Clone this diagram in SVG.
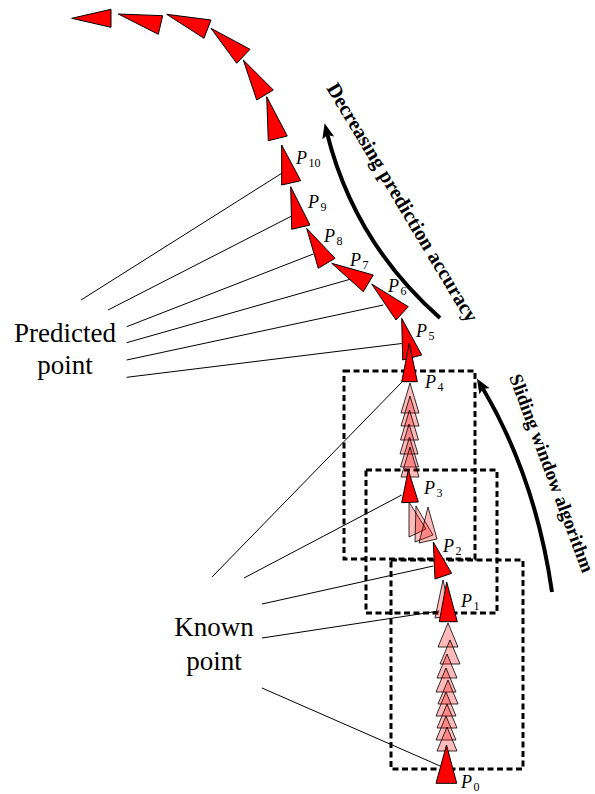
<svg xmlns="http://www.w3.org/2000/svg" width="595" height="794" viewBox="0 0 595 794">
<defs>
<style>
.red{fill:#ff0000;stroke:#000;stroke-width:1;stroke-linejoin:miter}
.pink{fill:#ff0000;fill-opacity:0.27;stroke:#000;stroke-width:0.8}
.ln{stroke:#000;stroke-width:1;fill:none}
.box{fill:none;stroke:#000;stroke-width:3;stroke-dasharray:6 3.5}
.arc{fill:none;stroke:#000;stroke-width:4}
.lbl{font-family:"Liberation Serif","Times New Roman",serif;font-size:27px;fill:#000;text-anchor:middle}
.pl{font-family:"Liberation Serif","Times New Roman",serif;font-size:18px;font-style:italic;fill:#000}
.sub{font-size:12px;font-style:normal}
.bt{font-family:"Liberation Serif","Times New Roman",serif;font-size:20.5px;font-weight:bold;fill:#000}
</style>
<marker id="ah" viewBox="0 0 15 12" markerUnits="userSpaceOnUse" markerWidth="15" markerHeight="12" refX="5" refY="6" orient="auto">
<path d="M0,0 L15,6 L0,12 L3,6 z" fill="#000"/>
</marker>
</defs>

<g id="connectors">
<line class="ln" x1="81" y1="300" x2="281.7" y2="173.3"/>
<line class="ln" x1="108" y1="310" x2="291.7" y2="216"/>
<line class="ln" x1="126.7" y1="326.7" x2="313.3" y2="254"/>
<line class="ln" x1="126.7" y1="342.7" x2="350" y2="279.3"/>
<line class="ln" x1="126.7" y1="360" x2="383.3" y2="305"/>
<line class="ln" x1="126.7" y1="377.3" x2="401.7" y2="343.5"/>
<line class="ln" x1="212" y1="577" x2="401.7" y2="382.3"/>
<line class="ln" x1="244" y1="578" x2="401.7" y2="495"/>
<line class="ln" x1="262" y1="604" x2="433.3" y2="566"/>
<line class="ln" x1="262" y1="638" x2="439.3" y2="611"/>
<line class="ln" x1="262" y1="688" x2="441.7" y2="766.7"/>
<path class="arc" d="M440,318 Q354,242 327,133" marker-end="url(#ah)"/>
<path class="arc" d="M552,592 Q535.5,477 482,387" marker-end="url(#ah)"/>
</g>

<g id="windows">
<rect class="box" x="344" y="371" width="131" height="188"/>
<rect class="box" x="366" y="470" width="131" height="143"/>
<rect class="box" x="391" y="560" width="132" height="209"/>
</g>

<g id="ghosts">
<polygon class="pink" points="410,383 419,413 401,413"/>
<polygon class="pink" points="410,396 419,426 401,426"/>
<polygon class="pink" points="409.5,410 418.5,440 400.5,440"/>
<polygon class="pink" points="409,424 418,454 400,454"/>
<polygon class="pink" points="409.5,437 418.5,467 400.5,467"/>
<polygon class="pink" points="410,447 419,477 401,477"/>
<polygon class="pink" points="409,502 426,529 409,537"/>
<polygon class="pink" points="416,506 433,535 415,542"/>
<polygon class="pink" points="428,507 437,539 419,543"/>
<polygon class="pink" points="443,580 451,616 435,618"/>
<polygon class="pink" points="448,623 458,647 438,647"/>
<polygon class="pink" points="450,640 460,664 440,664"/>
<polygon class="pink" points="447,654 457,678 437,678"/>
<polygon class="pink" points="446,668 456,692 436,692"/>
<polygon class="pink" points="448,680 458,704 438,704"/>
<polygon class="pink" points="446,692 456,716 436,716"/>
<polygon class="pink" points="447,704 457,728 437,728"/>
<polygon class="pink" points="446,716 456,740 436,740"/>
<polygon class="pink" points="447,727 457,751 437,751"/>
</g>

<g id="predicted-extra">
<polygon class="red" points="71.7,18.3 111,9.3 111,27.3"/>
<polygon class="red" points="118.3,14 162.7,15.7 158.3,34.3"/>
<polygon class="red" points="166.7,14.3 211,20 204,38.3"/>
<polygon class="red" points="211,28.3 250,49.3 236.7,63.3"/>
<polygon class="red" points="243.3,60 273.3,90 256.7,100"/>
<polygon class="red" points="266.7,96.7 287.3,136 268.3,140.7"/>
</g>
<g id="P10"><polygon class="red" points="281.7,145 300.7,180.7 281.7,185"/><text class="pl" x="296" y="164">P<tspan class="sub" dx="1.5" dy="3">10</tspan></text></g>
<g id="P9"><polygon class="red" points="290.7,186.7 310,225 291.7,229.3"/><text class="pl" x="308" y="208">P<tspan class="sub" dx="1.5" dy="3">9</tspan></text></g>
<g id="P8"><polygon class="red" points="306.7,228.3 335,258.3 318.3,268.3"/><text class="pl" x="324" y="242">P<tspan class="sub" dx="1.5" dy="3">8</tspan></text></g>
<g id="P7"><polygon class="red" points="331.7,263.3 373.3,275 363.3,291.7"/><text class="pl" x="350" y="266">P<tspan class="sub" dx="1.5" dy="3">7</tspan></text></g>
<g id="P6"><polygon class="red" points="371.7,284 408.3,306.7 396,320"/><text class="pl" x="388" y="292">P<tspan class="sub" dx="1.5" dy="3">6</tspan></text></g>
<g id="P5"><polygon class="red" points="401.7,318.3 421.7,355 402.7,360"/><text class="pl" x="416" y="337">P<tspan class="sub" dx="1.5" dy="3">5</tspan></text></g>
<g id="P4"><polygon class="red" points="409.3,343.3 417.3,381.7 401.7,381.7"/><text class="pl" x="425" y="388">P<tspan class="sub" dx="1.5" dy="3">4</tspan></text></g>
<g id="P3"><polygon class="red" points="408.3,470 418.3,502 401.7,502.7"/><text class="pl" x="424" y="494">P<tspan class="sub" dx="1.5" dy="3">3</tspan></text></g>
<g id="P2"><polygon class="red" points="433.3,542 451.7,573.3 435,579"/><text class="pl" x="443" y="552">P<tspan class="sub" dx="1.5" dy="3">2</tspan></text></g>
<g id="P1"><polygon class="red" points="446.7,582 457.3,621.7 439.3,621.7"/><text class="pl" x="461" y="607">P<tspan class="sub" dx="1.5" dy="3">1</tspan></text></g>
<g id="P0"><polygon class="red" points="446.5,745 456.7,783.3 436,783.3"/><text class="pl" x="461" y="788">P<tspan class="sub" dx="1.5" dy="3">0</tspan></text></g>

<g id="predicted-label"><text class="lbl" x="65" y="342">Predicted</text><text class="lbl" x="65" y="374">point</text></g>
<g id="known-label"><text class="lbl" x="214" y="636">Known</text><text class="lbl" x="214" y="670">point</text></g>
<g id="accuracy-label"><text class="bt" transform="translate(326,88) rotate(59)">Decreasing prediction accuracy</text></g>
<g id="sliding-label"><text class="bt" style="font-size:19px" transform="translate(509,377) rotate(69.5)">Sliding window algorithm</text></g>
</svg>
